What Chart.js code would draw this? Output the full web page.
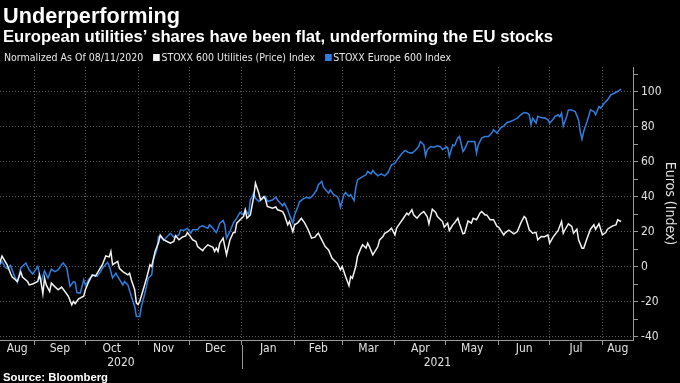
<!DOCTYPE html>
<html>
<head>
<meta charset="utf-8">
<script src="https://cdn.jsdelivr.net/npm/chart.js@4.4.0/dist/chart.umd.min.js"></script>
<style>
html,body{margin:0;padding:0;background:#000;width:680px;height:383px;overflow:hidden;}
#wrap{position:relative;width:680px;height:383px;background:#000;}
#wrap canvas{position:absolute;left:0;top:0;}
.txt{position:absolute;left:3px;white-space:nowrap;color:#fff;transform-origin:0 0;}
#title{top:5px;font:bold 22px/22px 'Liberation Sans',Arial,sans-serif;}
#subtitle{top:29px;font:bold 16px/16px 'Liberation Sans',Arial,sans-serif;}
#legend{top:52px;left:4px;font:11px/11px 'DejaVu Sans Condensed','Liberation Sans Narrow','DejaVu Sans',sans-serif;color:#e8e8e8;}
#legend .sw{display:inline-block;width:7px;height:7px;margin:0 2px 0 10px;vertical-align:0px;}
#source{top:372px;font:bold 11px/11px 'Liberation Sans',Arial,sans-serif;color:#fff;}
</style>
</head>
<body>
<div id="wrap">
  <canvas id="c" width="680" height="383"></canvas>
  <div class="txt" id="title">Underperforming</div>
  <div class="txt" id="subtitle">European utilities’ shares have been flat, underforming the EU stocks</div>
  <div class="txt" id="legend"></div>
  <div class="txt" id="source">Source: Bloomberg</div>
</div>
<script>
// ---- data (days since 2020-08-11, values normalized) ----
const legendPrefix = 'Normalized As Of 08/11/2020';
const seriesNames = ['STOXX 600 Utilities (Price) Index', 'STOXX Europe 600 Index'];

const utilDays = [
  0,2,5,7,8,11,13,14,17,18,
  20,23,24,25,26,27,28,30,31,33,
  35,37,39,41,43,44,45,47,50,51,
  53,55,57,58,61,63,65,66,67,70,
  71,73,76,77,78,80,81,82,83,85,
  87,89,90,92,94,95,97,99,101,103,
  104,106,108,110,111,113,114,116,117,120,
  121,123,126,127,128,129,130,132,133,134,
  136,138,139,140,142,144,145,146,148,150,
  151,153,154,156,157,158,161,163,164,167,
  168,170,171,173,174,176,178,180,182,184,
  186,187,188,190,192,194,196,197,199,201,
  202,204,206,207,208,210,211,213,214,216,
  217,218,220,223,224,226,227,229,231,233,
  234,236,238,240,241,243,244,246,248,250,
  252,253,255,257,258,261,262,264,265,267,
  268,270,271,273,274,276,278,279,281,283,
  284,286,287,289,291,293,294,297,298,300,
  303,305,307,309,310,312,314,316,317,319,
  321,323,324,326,327,329,331,332,333,335,
  337,338,340,341,343,344,346,348,350,351,
  353,355,357,358,361,363,364,366
];
const utilValues = [
  0,6,1,-4,-6,-8.6,-3,-6,-8.6,-10.5,
  -10,-8.6,-4.8,-9.5,-15.6,-6.6,-10.5,-14.3,-9.5,-11.5,
  -13.3,-11.8,-14.3,-17,-21.9,-20,-21.3,-18.5,-17,-13.3,
  -8.6,-4.8,-5.5,-3.8,1,6,5.5,8.6,1,2.9,
  -1,-2.9,-4.8,-3.8,-7.6,-13.3,-20.8,-21.7,-19.9,-13.3,
  -6.6,1,0,8.6,13.5,18,15.3,14.3,13.3,14.3,
  17.5,15.3,16.8,17.5,19.4,16.8,15.3,14.3,11.4,9.1,
  10.5,12.4,11,8.6,10.5,8.6,13.3,16.2,11.4,6.7,
  15.2,19.4,19.4,24.8,26.7,28.6,32.4,27.6,29.5,40,
  47.7,41.9,38,40,38,34.3,33.3,34,32.4,31.4,
  29.5,23.8,25.7,20,23.8,25.1,27.6,24.8,21,16.2,
  16.8,18.1,19,15.2,11.4,9.5,4.8,3.8,1.9,-1.9,
  0,-5.7,-11,-5.7,-6.7,0,5.7,10.5,12.4,10.5,
  13.3,11.4,6.7,11.4,15.2,17.1,19,20,21.9,18.1,
  21.9,24.8,27.6,30.5,29.5,32.4,29.5,27.6,30,31.4,
  28.6,24.4,32.8,30.9,28.6,25.7,22.5,24.8,20.6,23.8,
  24.8,27.6,24.4,18.7,19,26,24.8,27.6,26.7,30.5,
  31.4,29.5,29.5,26.7,26.7,22.9,22.5,18.1,19.4,20.8,
  18.7,20,24.8,28.6,27.6,21,19,19.5,15.2,17.1,
  17,18.1,13.3,16.8,18.1,20.6,25.7,19,21,24.4,
  22.9,19,21.3,15.2,10.5,10.5,16.2,21.3,23.8,21.3,
  24.4,18.1,19.4,21.3,23.2,23.8,26.7,25.7
];
const stoxxDays = [
  0,2,4,5,7,9,11,13,16,18,
  20,22,23,25,27,29,31,33,35,37,
  38,40,42,44,45,46,48,50,51,52,
  53,56,58,60,61,64,65,67,69,70,
  73,74,76,78,80,81,83,84,86,88,
  90,91,93,94,96,97,100,101,103,106,
  107,109,111,113,114,117,118,120,123,124,
  126,127,128,129,130,132,133,134,136,138,
  140,142,144,145,147,148,150,151,153,155,
  157,158,161,163,164,167,168,170,171,173,
  174,176,177,179,181,183,185,187,188,190,
  191,194,195,197,199,200,201,203,204,206,
  207,209,210,211,214,216,217,219,220,221,
  223,225,227,229,231,233,235,237,239,241,
  243,245,247,248,250,251,252,254,256,258,
  260,261,263,264,265,267,268,270,271,273,
  274,276,278,280,281,282,284,286,288,290,
  291,293,295,297,299,301,303,305,307,309,
  311,312,313,314,316,317,320,321,323,324,
  326,327,329,330,331,332,334,335,337,339,
  341,342,343,344,346,348,350,351,353,354,
  356,358,360,362,364,366
];
const stoxxValues = [
  0,2.9,-0.6,-1.3,0.6,-4.8,-9,-0.8,2,-2,
  -4.3,-1.5,0,-8.6,-2.5,-6.6,-1.5,-2.9,-2,1,
  2,-0.6,-11.4,-8.6,-9,-14.9,-15.2,-7.6,-10.5,-9.5,
  -7.2,-4.8,-5.5,-2.9,-1,2.3,0.5,-6.6,-3.8,-5.7,
  -10.5,-8.6,-10.5,-17,-22.8,-28.6,-28.6,-22.8,-15.2,-6.6,
  -4.8,3.8,9.5,17.1,16.2,14.9,18,19,16.8,18,
  21,20.6,21.9,19,21,21,22.5,23.2,21.9,23.8,
  21.9,20.6,19.4,21.9,24.8,26.3,23.8,16.2,20,24.8,
  27.6,30.9,29.5,32.4,29.5,38,41.9,39,37.1,38.5,
  40,37.1,38,39.6,38,34.7,36.2,32.4,29.5,24.8,
  29.5,34.3,37.1,38.5,39.6,39,40.9,43.8,46.7,48.6,
  45.3,41.9,43.8,41,40,38.1,33.9,41,42.3,40,
  41,37.7,44.8,49.5,51.4,52.4,54.3,52.9,54.9,53.7,
  51.8,52.9,51.8,53.7,58.1,59,61.9,64.4,66.3,65.1,
  64.8,66.3,68.6,71.4,69.5,63.2,66.7,68.6,68.2,69,
  68.2,66.7,68.2,68,62.9,69.5,69,73.4,74.3,65.7,
  67,71.4,71.4,71.4,64.8,69.5,73.4,74.3,74.3,76.2,
  78.1,76.2,79,80.4,82.3,82.9,83.8,84.8,86.7,88,
  87.6,86.7,81,84.8,81.9,85.7,84.8,85,83.8,81.9,
  84.1,85.7,86.7,85.5,87.6,80.4,85.7,89.5,89.5,88.6,
  83.8,77.1,72.8,77.1,82.9,89.5,88.6,86.7,91.4,90.5,
  93.3,95.2,98.1,99,100,101.4
];

// axis: day offsets of month starts (Sep 1 2020 ... Aug 1 2021)
const monthStarts = [21,51,82,112,143,174,202,233,263,294,324,355];
const monthNames = ['Aug','Sep','Oct','Nov','Dec','Jan','Feb','Mar','Apr','May','Jun','Jul','Aug'];
const yearLabels = ['2020','2021'];
const yTitle = 'Euros (Index)';

// ---- layout / style ----
const axisMin = 0.8, axisMax = 373;
const bounds = [axisMin, ...monthStarts, axisMax];
const monthMids = monthNames.map((_, i) => (bounds[i] + bounds[i + 1]) / 2);
const yearBounds = [axisMin, monthStarts[4], axisMax];
const yearMids = yearLabels.map((_, i) => (yearBounds[i] + yearBounds[i + 1]) / 2);

const colors = ['#f2f2f2', '#2f7fe0'];
const gridColor = '#5c5c5c';
const axisColor = '#9a9a9a';
const labelColor = '#e2e2e2';
const condensed = "'DejaVu Sans Condensed','Liberation Sans Narrow','DejaVu Sans',sans-serif";

// HTML legend
const lg = document.getElementById('legend');
lg.appendChild(document.createTextNode(legendPrefix));
seriesNames.forEach((n, i) => {
  const sw = document.createElement('span'); sw.className = 'sw'; sw.style.background = colors[i];
  lg.appendChild(sw); lg.appendChild(document.createTextNode(n));
});

function fitWidth(id, w) {
  const el = document.getElementById(id);
  el.style.transform = '';
  const r = el.getBoundingClientRect().width;
  if (r > 0) el.style.transform = 'scaleX(' + (w / r) + ')';
}
fitWidth('title', 177);
fitWidth('subtitle', 550);
fitWidth('legend', 447);
fitWidth('source', 105);

Chart.defaults.font.family = condensed;
Chart.defaults.color = labelColor;

const yearDivider = {
  id: 'yearDivider',
  afterDraw(chart) {
    const x = chart.scales.x, x3 = chart.scales.x3, ctx = chart.ctx;
    const px = Math.round(x.getPixelForValue(monthStarts[4])) + 0.5;
    ctx.save();
    ctx.strokeStyle = axisColor; ctx.lineWidth = 1;
    ctx.beginPath(); ctx.moveTo(px, x.top + 5); ctx.lineTo(px, x3.bottom - 1); ctx.stroke();
    ctx.restore();
  }
};

new Chart(document.getElementById('c'), {
  type: 'line',
  data: {
    datasets: [
      { label: seriesNames[0], data: utilDays.map((d, i) => ({ x: d, y: utilValues[i] })),
        borderColor: colors[0], borderWidth: 1.5, pointRadius: 0, tension: 0 },
      { label: seriesNames[1], data: stoxxDays.map((d, i) => ({ x: d, y: stoxxValues[i] })),
        borderColor: colors[1], borderWidth: 1.5, pointRadius: 0, tension: 0 }
    ]
  },
  options: {
    responsive: false, animation: false, devicePixelRatio: 1,
    layout: { padding: { top: 67, left: 0, right: 0, bottom: 13 } },
    plugins: { legend: { display: false }, tooltip: { enabled: false } },
    scales: {
      x: {
        type: 'linear', position: 'bottom', min: axisMin, max: axisMax,
        afterBuildTicks: s => { s.ticks = monthStarts.map(v => ({ value: v })); },
        ticks: { display: false },
        grid: { color: gridColor, lineWidth: 1, drawTicks: true, tickLength: 5, tickColor: axisColor },
        border: { display: true, color: axisColor, width: 1, dash: [1, 2] },
        afterFit: s => { s.height = 2; }
      },
      x2: {
        type: 'linear', position: 'bottom', min: axisMin, max: axisMax,
        afterBuildTicks: s => { s.ticks = monthMids.map(v => ({ value: v })); },
        ticks: { autoSkip: false, maxRotation: 0, minRotation: 0, padding: 0, color: labelColor,
                 font: { size: 12 }, callback: (v, i) => monthNames[i] },
        grid: { display: false, drawTicks: false, tickLength: 0 },
        border: { display: false },
        afterFit: s => { s.height = 14; }
      },
      x3: {
        type: 'linear', position: 'bottom', min: axisMin, max: axisMax,
        afterBuildTicks: s => { s.ticks = yearMids.map(v => ({ value: v })); },
        ticks: { autoSkip: false, maxRotation: 0, minRotation: 0, padding: 0, color: labelColor,
                 font: { size: 12 }, callback: (v, i) => yearLabels[i] },
        grid: { display: false, drawTicks: false, tickLength: 0 },
        border: { display: false },
        afterFit: s => { s.height = 14; }
      },
      y: {
        position: 'right', min: -42, max: 114,
        ticks: { stepSize: 10, includeBounds: false, padding: 3, color: labelColor, font: { size: 12 },
                 callback: v => (v % 20 === 0 ? String(v) : '') },
        grid: { color: c => (c.tick && c.tick.value % 20 === 0 ? gridColor : 'rgba(0,0,0,0)'),
                drawTicks: true, tickLength: 5, tickColor: axisColor },
        border: { display: true, color: axisColor, width: 1, dash: [1, 2] },
        title: { display: true, text: yTitle, color: labelColor, font: { size: 14 }, padding: { top: 2, bottom: 4 } },
        afterFit: s => { s.width = 47; }
      }
    }
  },
  plugins: [yearDivider]
});
</script>
</body>
</html>
